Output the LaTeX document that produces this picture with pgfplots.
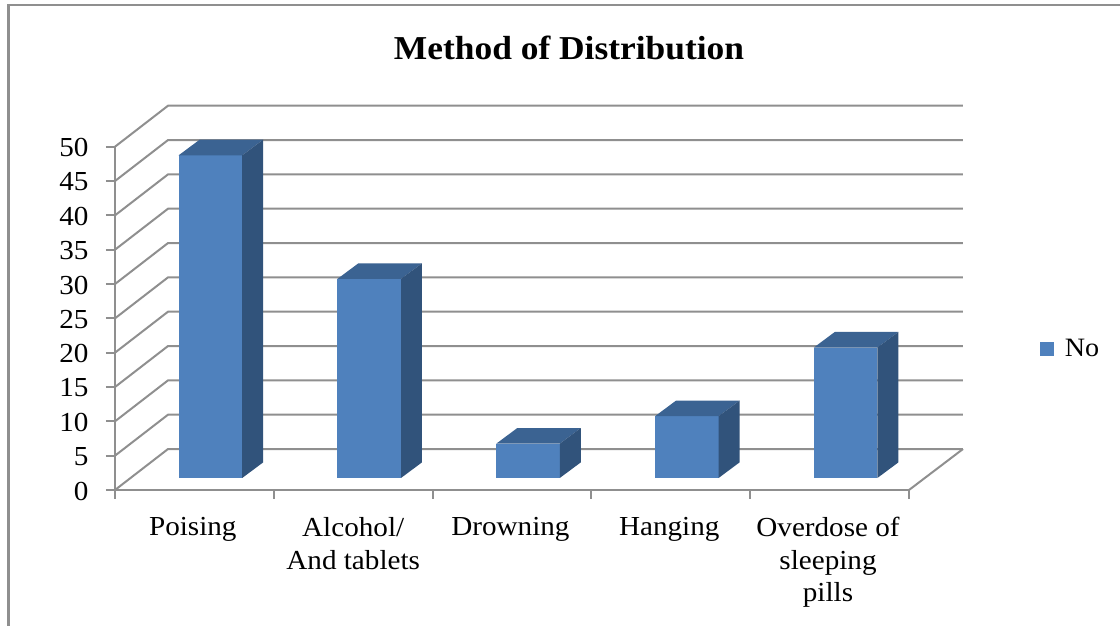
\documentclass[border=0pt]{standalone}
\usepackage{fontspec}
\setmainfont[FakeStretch=1.06]{Liberation Serif}
\usepackage{pgfplots}
\pgfplotsset{compat=1.18}
\definecolor{barfront}{HTML}{4F81BD}
\definecolor{bartop}{HTML}{3B6392}
\definecolor{barside}{HTML}{31537B}
\definecolor{gridc}{HTML}{8F8F8F}
\newcommand{\gridl}[2]{\addplot[forget plot,gridc,line width=2pt] coordinates {(0,#1) (0.334,#2) (5.34,#2)};}
\begin{document}
\begin{tikzpicture}
\useasboundingbox (-115pt,-136pt) rectangle (1005pt,490pt);
\draw[gridc,line width=2.5pt] (-106.5pt,-136pt) -- (-106.5pt,485pt) -- (1005pt,485pt);
\begin{axis}[
  scale only axis, width=794pt, height=343.3pt,
  xmin=0, xmax=5, ymin=0, ymax=50,
  clip=false,
  axis lines=left,
  axis line style={-,gridc,line width=2pt},
  tick align=outside,
  tick style={gridc,line width=2pt},
  major tick length=9pt, minor tick length=9pt,
  ytick={0,5,...,50},
  xtick={0.49,1.5,2.49,3.49,4.49},
  minor xtick={0,1,2,3,4,5},
  xtick style={draw=none},
  minor x tick style={draw=gridc,line width=2pt},
  xticklabels={Poising,{Alcohol/\\And tablets},Drowning,Hanging,{Overdose of\\sleeping\\pills}},
  x tick label style={align=center,font=\fontsize{27.5}{32.5}\selectfont,yshift=-15pt},
  y tick label style={font=\fontsize{27.5}{30}\selectfont,xshift=-14pt,yshift=-1pt},
  /pgf/number format/assume math mode=true,
  title={Method of Distribution},
  title style={at={(0.5718,1.27)},anchor=center,font=\fontsize{33.4}{38}\selectfont\bfseries},
  legend style={at={(1.165,0.411)},anchor=west,draw=none,fill=none,
    font=\fontsize{26.5}{30}\selectfont,inner sep=0pt,
    /tikz/every odd column/.append style={column sep=9pt}},
  legend image code/.code={\fill[barfront] (0pt,-6.7pt) rectangle (13.6pt,6.7pt);},
]
% back wall and side-wall gridlines: front value, back-wall height
\gridl{0}{5.97}
\gridl{5}{10.97}
\gridl{10}{15.97}
\gridl{15}{20.97}
\gridl{20}{25.97}
\gridl{25}{30.97}
\gridl{30}{35.97}
\gridl{35}{40.97}
\gridl{40}{45.97}
\gridl{45}{50.97}
\gridl{50}{55.97}
\addplot[forget plot,gridc,line width=2pt] coordinates {(5,0) (5.34,5.97)};
% Poising = 47
\addplot[fill=barfront,draw=none] coordinates {(0.401,1.75) (0.801,1.75) (0.801,48.75) (0.401,48.75)} --cycle;
\addlegendentry{No}
\addplot[forget plot,fill=bartop,draw=none] coordinates {(0.401,48.75) (0.801,48.75) (0.933,51.02) (0.533,51.02)} --cycle;
\addplot[forget plot,fill=barside,draw=none] coordinates {(0.801,1.75) (0.933,4.02) (0.933,51.02) (0.801,48.75)} --cycle;
% Alcohol = 29
\addplot[forget plot,fill=barfront,draw=none] coordinates {(1.401,1.75) (1.801,1.75) (1.801,30.75) (1.401,30.75)} --cycle;
\addplot[forget plot,fill=bartop,draw=none] coordinates {(1.401,30.75) (1.801,30.75) (1.933,33.02) (1.533,33.02)} --cycle;
\addplot[forget plot,fill=barside,draw=none] coordinates {(1.801,1.75) (1.933,4.02) (1.933,33.02) (1.801,30.75)} --cycle;
% Drowning = 5
\addplot[forget plot,fill=barfront,draw=none] coordinates {(2.401,1.75) (2.801,1.75) (2.801,6.75) (2.401,6.75)} --cycle;
\addplot[forget plot,fill=bartop,draw=none] coordinates {(2.401,6.75) (2.801,6.75) (2.933,9.02) (2.533,9.02)} --cycle;
\addplot[forget plot,fill=barside,draw=none] coordinates {(2.801,1.75) (2.933,4.02) (2.933,9.02) (2.801,6.75)} --cycle;
% Hanging = 9
\addplot[forget plot,fill=barfront,draw=none] coordinates {(3.401,1.75) (3.801,1.75) (3.801,10.75) (3.401,10.75)} --cycle;
\addplot[forget plot,fill=bartop,draw=none] coordinates {(3.401,10.75) (3.801,10.75) (3.933,13.02) (3.533,13.02)} --cycle;
\addplot[forget plot,fill=barside,draw=none] coordinates {(3.801,1.75) (3.933,4.02) (3.933,13.02) (3.801,10.75)} --cycle;
% Overdose = 19
\addplot[forget plot,fill=barfront,draw=none] coordinates {(4.401,1.75) (4.801,1.75) (4.801,20.75) (4.401,20.75)} --cycle;
\addplot[forget plot,fill=bartop,draw=none] coordinates {(4.401,20.75) (4.801,20.75) (4.933,23.02) (4.533,23.02)} --cycle;
\addplot[forget plot,fill=barside,draw=none] coordinates {(4.801,1.75) (4.933,4.02) (4.933,23.02) (4.801,20.75)} --cycle;
\end{axis}
\end{tikzpicture}
\end{document}
